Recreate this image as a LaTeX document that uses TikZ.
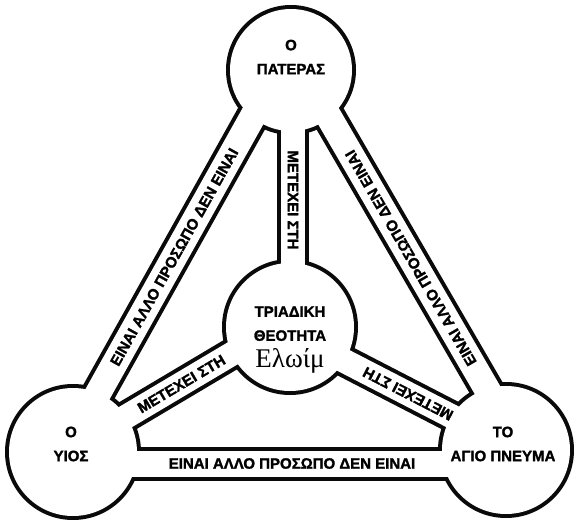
\documentclass[tikz,border=0pt]{standalone}
\usepackage{fontspec}
\setmainfont{Liberation Sans}[BoldFeatures={FakeBold=1.6}]
\newfontfamily\elohimfont{Liberation Serif}
\usetikzlibrary{calc}
\definecolor{ink}{HTML}{0A0A0A}
\tikzset{
  rimband/.style={draw=ink,line width=34pt},
  holeband/.style={draw=white,line width=26pt},
  rimspoke/.style={draw=ink,line width=32pt},
  holespoke/.style={draw=white,line width=24pt},
  bandlabel/.style={inner sep=0pt,font=\fontsize{15}{15}\selectfont\bfseries},
  personlabel/.style={inner sep=0pt,align=center,font=\fontsize{15}{24}\selectfont\bfseries}
}
\begin{document}
\begin{tikzpicture}[x=1pt,y=-1pt]
\useasboundingbox[fill=white] (0,0) rectangle (574,522);
% centres of the four discs
\coordinate (pat) at (291,70);
\coordinate (yios) at (73,452);
\coordinate (pnev) at (506,450);
\coordinate (theo) at (290,327);
% ends of the three outer bands
\coordinate (lbS) at (76.6,431.6);
\coordinate (lbF) at (272.4,81.4);
\coordinate (rbF) at (309.4,83.3);
\coordinate (rbH) at (511.1,430.8);
\coordinate (bbS) at (73,463.5);
\coordinate (bbH) at (506,463.5);
% ends of the three spokes
\coordinate (tsC) at (293,326);
\coordinate (tsF) at (293,72);
\coordinate (lsC) at (284.1,322.8);
\coordinate (lsS) at (84.2,441.6);
\coordinate (rsC) at (293.4,334.6);
\coordinate (rsH) at (498.8,440.7);

% black rims first, then white holes on top
\foreach \a/\b in {lbS/lbF,rbF/rbH,bbS/bbH}
  \draw[rimband] (\a) -- (\b);
\foreach \a/\b in {tsC/tsF,lsC/lsS,rsC/rsH}
  \draw[rimspoke] (\a) -- (\b);
\foreach \c/\r in {pat/63,yios/66,pnev/66,theo/66}
  \fill[ink] (\c) circle[radius=\r+2];
\foreach \a/\b in {lbS/lbF,rbF/rbH,bbS/bbH}
  \draw[holeband] (\a) -- (\b);
\foreach \a/\b in {tsC/tsF,lsC/lsS,rsC/rsH}
  \draw[holespoke] (\a) -- (\b);
\foreach \c/\r in {pat/63,yios/66,pnev/66,theo/66}
  \fill[white] (\c) circle[radius=\r-2];

% band texts
\node[bandlabel,rotate=60.8] (lbtext) at (174.2,257) {ΕΙΝΑΙ ΑΛΛΟ ΠΡΟΣΩΠΟ ΔΕΝ ΕΙΝΑΙ};
\node[bandlabel,rotate=120.1] (rbtext) at (410.8,258) {ΕΙΝΑΙ ΑΛΛΟ ΠΡΟΣΩΠΟ ΔΕΝ ΕΙΝΑΙ};
\node[bandlabel] (bbtext) at (292,463.5) {ΕΙΝΑΙ ΑΛΛΟ ΠΡΟΣΩΠΟ ΔΕΝ ΕΙΝΑΙ};
\node[bandlabel,rotate=-90] (tstext) at (293,200) {ΜΕΤΕΧΕΙ ΣΤΗ};
\node[bandlabel,rotate=30.7] (lstext) at (181.4,383.9) {ΜΕΤΕΧΕΙ ΣΤΗ};
\node[bandlabel,rotate=152.7] (rstext) at (408,393.8) {ΜΕΤΕΧΕΙ ΣΤΗ};

% names in the discs
\node[personlabel] (patname) at (291,57) {Ο\\ΠΑΤΕΡΑΣ};
\node[personlabel] (yiosname) at (71,444) {Ο\\ΥΙΟΣ};
\node[personlabel] (pnevname) at (503,444) {ΤΟ\\ΑΓΙΟ ΠΝΕΥΜΑ};
\node[personlabel] (theoname) at (290,340) {ΤΡΙΑΔΙΚΗ\\ΘΕΟΤΗΤΑ\\[3pt]{\elohimfont\fontsize{27}{27}\selectfont\mdseries Ελωίμ}};
\end{tikzpicture}
\end{document}
